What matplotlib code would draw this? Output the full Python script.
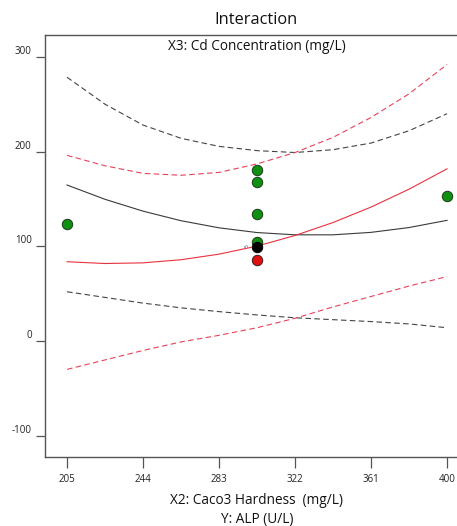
import matplotlib
matplotlib.use("Agg")
import matplotlib.pyplot as plt
import matplotlib.transforms as mtransforms

plt.rcParams['font.family'] = ['Open Sans', 'DejaVu Sans']

# ---- data ----
x_grid = [205, 224.5, 244, 263.5, 283, 302.5, 322, 341.5, 361, 380.5, 400]
black_mean = [164.7, 149.6, 137.1, 127.0, 119.5, 114.5, 112.1, 112.1, 114.7, 119.8, 127.4]
black_upper = [278.5, 250, 228, 214, 205.5, 201, 199, 202, 209, 222, 240]
black_lower = [52, 46, 40, 35, 31, 27.5, 24.5, 22.5, 20.5, 18, 14]
red_mean = [83.7, 81.8, 82.5, 85.8, 91.7, 100.2, 111.4, 125.1, 141.4, 160.3, 181.8]
red_upper = [196, 185, 177, 175, 178, 187, 199, 215, 236, 261, 292]
red_lower = [-30, -20, -10, -1, 6, 14, 24, 36, 47, 58, 68]

green_x = [205, 400, 302.5, 302.5, 302.5, 302.5]
green_y = [123.5, 153.5, 180.5, 168.2, 134.1, 104.2]
black_pt_x = [302.5]
black_pt_y = [99.6]
red_pt_x = [302.5]
red_pt_y = [85.2]

x_ticks = [205, 244, 283, 322, 361, 400]
y_ticks = [-100, 0, 100, 200, 300]

W, H = 457, 526
fig = plt.figure(figsize=(W / 100, H / 100), dpi=100)
ax = fig.add_axes([45 / W, (H - 457) / H, (W - 45) / W, (457 - 35) / H])

ax.plot(x_grid, black_mean, color='#3a3a3a', lw=0.8)
ax.plot(x_grid, black_upper, color='#444444', lw=0.8, ls=(0, (5, 3)))
ax.plot(x_grid, black_lower, color='#444444', lw=0.8, ls=(0, (5, 3)))
ax.plot(x_grid, red_mean, color='#e8323f', lw=0.8)
ax.plot(x_grid, red_upper, color='#e8425a', lw=0.8, ls=(0, (5, 3)))
ax.plot(x_grid, red_lower, color='#e8425a', lw=0.8, ls=(0, (5, 3)))

ax.plot(green_x, green_y, 'o', ms=7.5, mfc='#0f9010', mec='#1a3a1a', mew=0.7, ls='none', zorder=5)
ax.plot(red_pt_x, red_pt_y, 'o', ms=7.5, mfc='#e01010', mec='#3a1a1a', mew=0.7, ls='none', zorder=5)
ax.plot(black_pt_x, black_pt_y, 'o', ms=7.5, mfc='#000000', mec='#000000', mew=0.7, ls='none', zorder=6)
ax.text(297.5, 101, '5', fontsize=3.5, rotation=90, ha='center', va='center', color='#333333')

ax.set_xlim(193.7, 405.1)
ax.set_ylim(-122.5, 323.1)
ax.set_xticks(x_ticks)
ax.set_xticklabels([str(v) for v in x_ticks])
ax.set_yticks(y_ticks)
ax.set_yticklabels([str(v) for v in y_ticks])

for s in ['left', 'bottom', 'top']:
    ax.spines[s].set_color('#555555')
    ax.spines[s].set_linewidth(1.0)
ax.spines['right'].set_visible(False)

ax.tick_params(axis='y', direction='out', length=6.5, width=0.9, color='#555555',
               labelsize=7, pad=3, labelcolor='#222222')
ax.tick_params(axis='x', direction='out', length=8, width=0.9, color='#555555',
               labelsize=7, pad=4, labelcolor='#222222')
offset = mtransforms.ScaledTranslation(0, 5 / 72, fig.dpi_scale_trans)
for lab in ax.get_yticklabels():
    lab.set_transform(lab.get_transform() + offset)

fig.text(256 / W, 1 - 20 / H, 'Interaction', ha='center', va='center', fontsize=11.8, color='#111111')
fig.text(257 / W, 1 - 46 / H, 'X3: Cd Concentration (mg/L)', ha='center', va='center', fontsize=9.8, color='#111111')
fig.text(256 / W, 1 - 500 / H, 'X2: Caco3 Hardness  (mg/L)', ha='center', va='center', fontsize=9.8, color='#111111')
fig.text(257 / W, 1 - 520 / H, 'Y: ALP (U/L)', ha='center', va='center', fontsize=9.8, color='#111111')

fig.savefig('out.png', dpi=100)
